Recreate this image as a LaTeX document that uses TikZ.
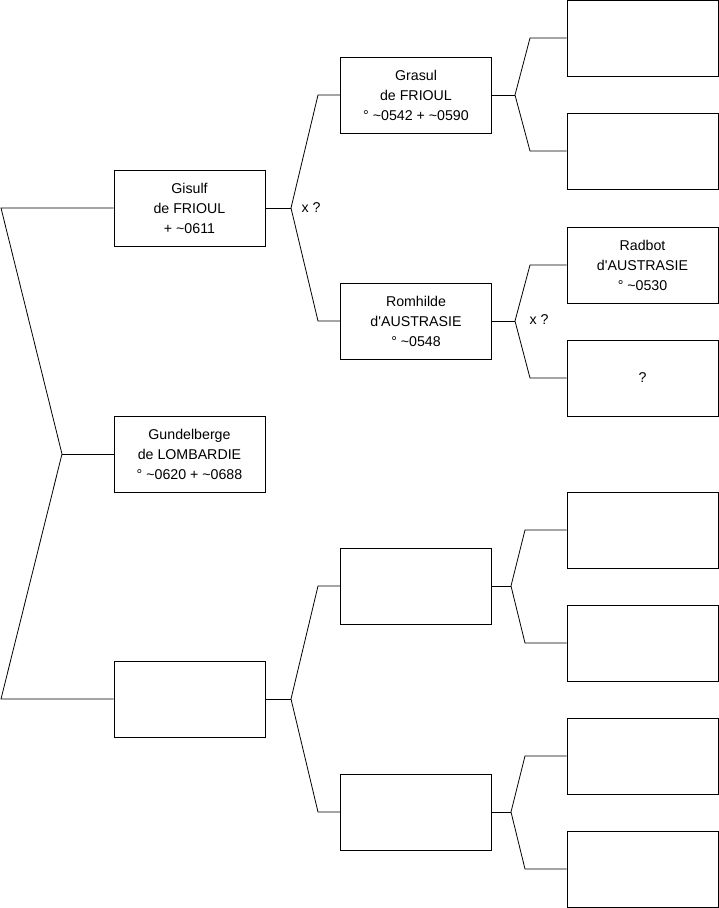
\documentclass[tikz,border=0pt]{standalone}
\usepackage{fontspec}
\setmainfont{Liberation Sans}[Ligatures=TeXOff]
\begin{document}
\begin{tikzpicture}[x=1pt,y=-1pt,
  pbox/.style={draw, line width=0.9pt, minimum width=151pt, minimum height=76pt, inner sep=0pt, align=center, font=\fontsize{14.2}{20}\selectfont},
  conn/.style={line width=0.8pt},
  lbl/.style={font=\fontsize{14.2}{16}\selectfont, inner sep=0pt}]
\useasboundingbox (0,0) rectangle (719,908);
% level 1
\node[pbox] (gisulf) at (189.5,208) {Gisulf\\de FRIOUL\\+ \textasciitilde 0611};
\node[pbox] (gund) at (189.5,454) {Gundelberge\\de LOMBARDIE\\° \textasciitilde 0620 + \textasciitilde 0688};
\node[pbox] (pb) at (189.5,699) {};
% level 2
\node[pbox] (grasul) at (416,95) {Grasul\\de FRIOUL\\° \textasciitilde 0542 + \textasciitilde 0590};
\node[pbox] (romh) at (416,321) {Romhilde\\d'AUSTRASIE\\° \textasciitilde 0548};
\node[pbox] (p3) at (416,586) {};
\node[pbox] (p4) at (416,812) {};
% level 3
\node[pbox] (t1) at (642.5,38) {};
\node[pbox] (t2) at (642.5,151) {};
\node[pbox] (radbot) at (642.5,265) {Radbot\\d'AUSTRASIE\\° \textasciitilde 0530};
\node[pbox] (q) at (642.5,378) {?};
\node[pbox] (t5) at (642.5,530) {};
\node[pbox] (t6) at (642.5,643) {};
\node[pbox] (t7) at (642.5,756) {};
\node[pbox] (t8) at (642.5,869) {};
% fork points
\coordinate (r0a) at (1,208);
\coordinate (r0) at (62,454);
\coordinate (r0b) at (1,699);
\coordinate (f1) at (291,208);
\coordinate (f1a) at (318,95);
\coordinate (f1b) at (318,321);
\coordinate (f2) at (291,699);
\coordinate (f2a) at (318,586);
\coordinate (f2b) at (318,812);
\coordinate (g1) at (515,95);
\coordinate (g1a) at (530,38);
\coordinate (g1b) at (530,151);
\coordinate (g2) at (515,321);
\coordinate (g2a) at (530,265);
\coordinate (g2b) at (530,378);
\coordinate (g3) at (511,586);
\coordinate (g3a) at (525,530);
\coordinate (g3b) at (525,643);
\coordinate (g4) at (511,812);
\coordinate (g4a) at (525,756);
\coordinate (g4b) at (525,869);
% connectors
\draw[conn] (gisulf.west) -- (r0a) -- (r0) -- (r0b) -- (pb.west);
\draw[conn] (r0) -- (gund.west);
\draw[conn] (grasul.west) -- (f1a) -- (f1) -- (f1b) -- (romh.west);
\draw[conn] (gisulf.east) -- (f1);
\draw[conn] (p3.west) -- (f2a) -- (f2) -- (f2b) -- (p4.west);
\draw[conn] (pb.east) -- (f2);
\draw[conn] (t1.west) -- (g1a) -- (g1) -- (g1b) -- (t2.west);
\draw[conn] (grasul.east) -- (g1);
\draw[conn] (radbot.west) -- (g2a) -- (g2) -- (g2b) -- (q.west);
\draw[conn] (romh.east) -- (g2);
\draw[conn] (t5.west) -- (g3a) -- (g3) -- (g3b) -- (t6.west);
\draw[conn] (p3.east) -- (g3);
\draw[conn] (t7.west) -- (g4a) -- (g4) -- (g4b) -- (t8.west);
\draw[conn] (p4.east) -- (g4);
% labels
\node[lbl] (x1) at (311,208) {x ?};
\node[lbl] (x2) at (539,320) {x ?};
\end{tikzpicture}
\end{document}
